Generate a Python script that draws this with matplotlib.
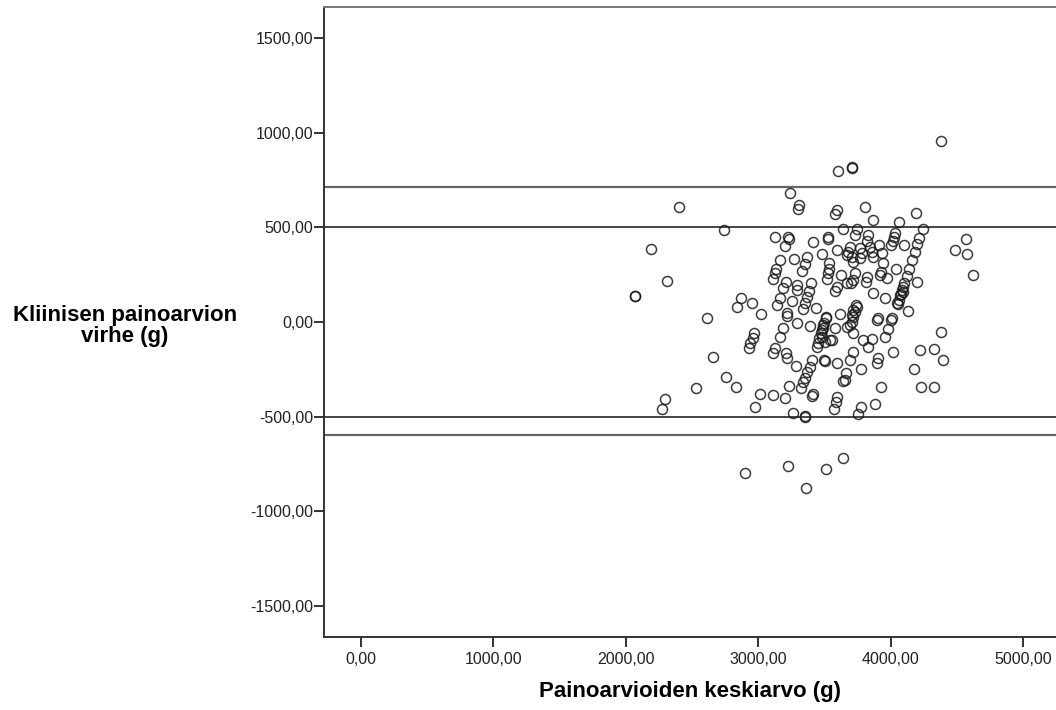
import numpy as np
import matplotlib
matplotlib.use('Agg')
import matplotlib.pyplot as plt

plt.rcParams['font.family'] = ['Liberation Sans', 'DejaVu Sans']

# keskiarvo (g) ja erotus (g) jokaiselle synnytykselle
keskiarvo = [
  3600, 3706, 3712, 3243, 2404, 3306, 3298, 3593, 3580, 2744, 3643, 3125,
  3223, 3230, 3205, 2193, 3412, 3525, 3525, 3593, 3165, 3268, 3366, 3351,
  3333, 3482, 3537, 3532, 3525, 3623, 3137, 3127, 3112, 2311, 3212, 3187,
  3162, 3140, 3291, 3291, 3401, 3384, 3517, 3593, 3582, 3255, 3366, 3353,
  3336, 3437, 2070, 2073, 2870, 2840, 2951, 3023, 2611, 3220, 3221, 3512,
  3618, 3674,
  4381, 3804, 3870, 4064, 4190, 4247, 4218, 4201, 4184, 4164, 4141, 4121,
  4101, 4084, 4071, 4064, 4054, 4090, 4095, 4078, 4033, 4026, 4016, 4003,
  4104, 4201, 4041, 4129, 4567, 4487, 4580, 4625, 3744, 3731, 3827, 3819,
  3693, 3680, 3668, 3706, 3718, 3769, 3782, 3769, 3844, 3857, 3870, 3915,
  3933, 3945, 3928, 3920, 3971, 3870, 3958, 4046, 3731, 3718, 3701, 3819,
  3812, 3739, 3718, 3706, 3907, 4008,
  3185, 3165, 3296, 3391, 3512, 3497, 3487, 3474, 3462, 3450, 3580, 3555,
  2968, 2958, 2938, 2931, 3127, 3115, 3210, 3215, 3286, 2661, 2754, 2830,
  2528, 2296, 2271, 3014, 2978, 3110, 3202, 3235, 3321, 3261, 3353, 3356,
  3412, 3410, 3404, 3391, 3371, 3353, 3336, 3500, 3593, 3442, 3593, 3588,
  3573, 3656, 3663, 3668, 2900, 3223, 3361, 3510, 3638,
  3744, 3731, 3718, 3706, 3693, 3492, 3480, 3480, 3505, 3543, 3718, 3794,
  3857, 3832, 3718, 3693, 3638, 3505, 3777, 3900, 4001, 3983, 3958, 3907,
  3895, 4021, 3928, 3882, 3777, 3757, 4222, 4328, 4378, 4398, 4177, 4230,
  4328,
]
erotus = [
  800, 813, 818, 684, 607, 619, 596, 592, 570, 488, 490, 448,
  451, 439, 402, 388, 423, 448, 439, 381, 328, 335, 345, 307,
  271, 358, 310, 280, 258, 249, 282, 258, 226, 218, 210, 178,
  129, 90, 196, 169, 208, 166, 226, 187, 166, 111, 134, 102,
  69, 76, 140, 137, 129, 78, 99, 44, 23, 46, 32, 28,
  41, 205,
  958, 607, 540, 531, 578, 490, 446, 413, 372, 328, 280, 243,
  205, 169, 143, 116, 94, 185, 160, 150, 469, 448, 430, 407,
  409, 210, 279, 60, 439, 381, 358, 250, 490, 460, 460, 430,
  398, 372, 354, 345, 319, 390, 363, 337, 398, 372, 345, 407,
  367, 310, 266, 249, 231, 152, 125, 99, 258, 222, 208, 240,
  213, 90, 63, 37, 20, 20,
  -33, -78, -7, -21, 20, -7, -33, -60, -86, -113, -33, -95,
  -60, -86, -113, -136, -139, -162, -166, -192, -233, -183, -293, -342,
  -351, -409, -462, -381, -448, -386, -400, -337, -351, -480, -501, -495,
  -383, -392, -201, -236, -263, -298, -316, -201, -215, -131, -395, -422,
  -462, -307, -268, -25, -801, -760, -880, -779, -721,
  81, 54, 28, 2, -16, -16, -42, -78, -104, -95, -60, -95,
  -92, -131, -157, -201, -311, -205, -250, 11, 11, -39, -81, -192,
  -215, -157, -342, -432, -448, -488, -148, -143, -51, -201, -250, -342,
  -342,
]

yla_raja = 716     # keskiarvo + 1.96 SD
ala_raja = -597    # keskiarvo - 1.96 SD
kliininen_raja = [500, -500]

x_ticks = [0, 1000, 2000, 3000, 4000, 5000]
y_ticks = [-1500, -1000, -500, 0, 500, 1000, 1500]

def fi(v):
  return ('%.2f' % v).replace('.', ',')

fig = plt.figure(figsize=(10.56, 7.10), dpi=100)
ax = fig.add_axes([324/1056, 73/710, (1056-324)/1056, 630/710])

ax.axhline(yla_raja, color='#666666', lw=1.6, zorder=1)
ax.axhline(ala_raja, color='#666666', lw=1.6, zorder=1)
for r in kliininen_raja:
  ax.axhline(r, color='#444444', lw=1.4, zorder=1)

ax.plot(keskiarvo, erotus, 'o', ms=7.2, mfc='none', mec='#1a1a1a', mew=1.1,
        alpha=0.85, zorder=2)

ax.set_xlim(-279, 5249)
ax.set_ylim(-1666, 1666)
ax.set_xticks(x_ticks)
ax.set_xticklabels([fi(v) for v in x_ticks])
ax.set_yticks(y_ticks)
ax.set_yticklabels([fi(v) for v in y_ticks])
ax.tick_params(axis='both', direction='out', length=7, width=1.4, color='#333333',
               labelsize=11.5, labelcolor='#222222')
ax.tick_params(axis='y', pad=0.5)
ax.tick_params(axis='x', pad=4)

for s in ['left', 'bottom', 'top']:
  ax.spines[s].set_color('#333333')
  ax.spines[s].set_linewidth(1.4)
ax.spines['top'].set_color('#777777')
ax.spines['right'].set_visible(False)

fig.text(690/1056, 1 - 692/710, 'Painoarvioiden keskiarvo (g)', ha='center', va='center',
         fontsize=16, fontweight='bold')
fig.text(125/1056, 1 - 326/710, 'Kliinisen painoarvion\nvirhe (g)', ha='center', va='center',
         multialignment='center', fontsize=16, fontweight='bold', linespacing=0.95)

fig.savefig('out.png', dpi=100)
